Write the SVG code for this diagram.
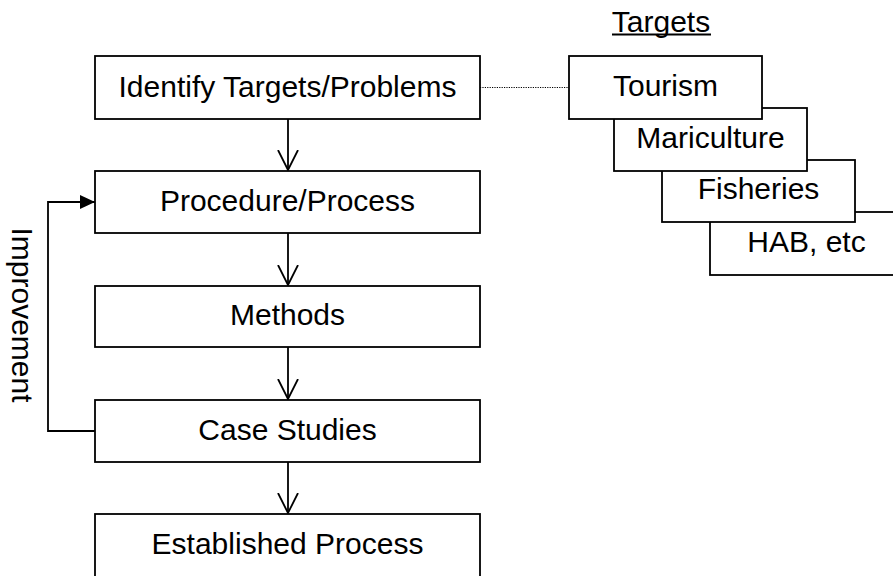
<svg xmlns="http://www.w3.org/2000/svg" width="893" height="576" viewBox="0 0 893 576">
<defs>
<style>
.box{fill:#fff;stroke:#000;stroke-width:1.8}
.t{font-family:"Liberation Sans",Arial,sans-serif;font-size:30px;fill:#000;text-anchor:middle}
.ln{fill:none;stroke:#000;stroke-width:1.8}
.dot{fill:none;stroke:#000;stroke-width:1;stroke-dasharray:1.2,1.2}
</style>
<marker id="open" markerWidth="24" markerHeight="24" refX="20" refY="10" orient="auto" markerUnits="userSpaceOnUse" viewBox="0 0 24 20">
<path d="M0,0 L20,10 L0,20" fill="none" stroke="#000" stroke-width="1.8"/>
</marker>
<marker id="solid" markerWidth="16" markerHeight="16" refX="15" refY="7" orient="auto" markerUnits="userSpaceOnUse" viewBox="0 0 16 14">
<path d="M0,0 L15,7 L0,14 Z" fill="#000"/>
</marker>
</defs>
<rect width="893" height="576" fill="#fff"/>

<g id="connectors">
<path class="ln" d="M288,119 V170" marker-end="url(#open)"/>
<path class="ln" d="M288,233 V285" marker-end="url(#open)"/>
<path class="ln" d="M288,347 V399" marker-end="url(#open)"/>
<path class="ln" d="M288,462 V513" marker-end="url(#open)"/>
<path class="ln" d="M95,431 H48 V202 H95" marker-end="url(#solid)"/>
<path class="dot" d="M480,87.5 H569"/>
</g>

<g id="label-improvement">
<text class="t" transform="translate(12,315) rotate(90)">Improvement</text>
</g>

<g id="label-targets">
<text class="t" x="661" y="32">Targets</text>
<line x1="612" y1="34.5" x2="711" y2="34.5" stroke="#000" stroke-width="1.8"/>
</g>

<g id="identify">
<rect class="box" x="95" y="56" width="385" height="63"/>
<text class="t" x="287.5" y="97">Identify Targets/Problems</text>
</g>
<g id="procedure">
<rect class="box" x="95" y="171" width="385" height="62"/>
<text class="t" x="287.5" y="211">Procedure/Process</text>
</g>
<g id="methods">
<rect class="box" x="95" y="286" width="385" height="61"/>
<text class="t" x="287.5" y="325">Methods</text>
</g>
<g id="case-studies">
<rect class="box" x="95" y="400" width="385" height="62"/>
<text class="t" x="287.5" y="440">Case Studies</text>
</g>
<g id="established">
<rect class="box" x="95" y="514" width="385" height="64"/>
<text class="t" x="287.5" y="554">Established Process</text>
</g>

<g id="hab">
<rect class="box" x="710" y="212" width="193" height="63"/>
<text class="t" x="806.5" y="252">HAB, etc</text>
</g>
<g id="fisheries">
<rect class="box" x="662" y="160" width="193" height="62"/>
<text class="t" x="758.5" y="199">Fisheries</text>
</g>
<g id="mariculture">
<rect class="box" x="614" y="108" width="193" height="63"/>
<text class="t" x="710.5" y="148">Mariculture</text>
</g>
<g id="tourism">
<rect class="box" x="569" y="56" width="193" height="63"/>
<text class="t" x="665.5" y="96">Tourism</text>
</g>
</svg>
